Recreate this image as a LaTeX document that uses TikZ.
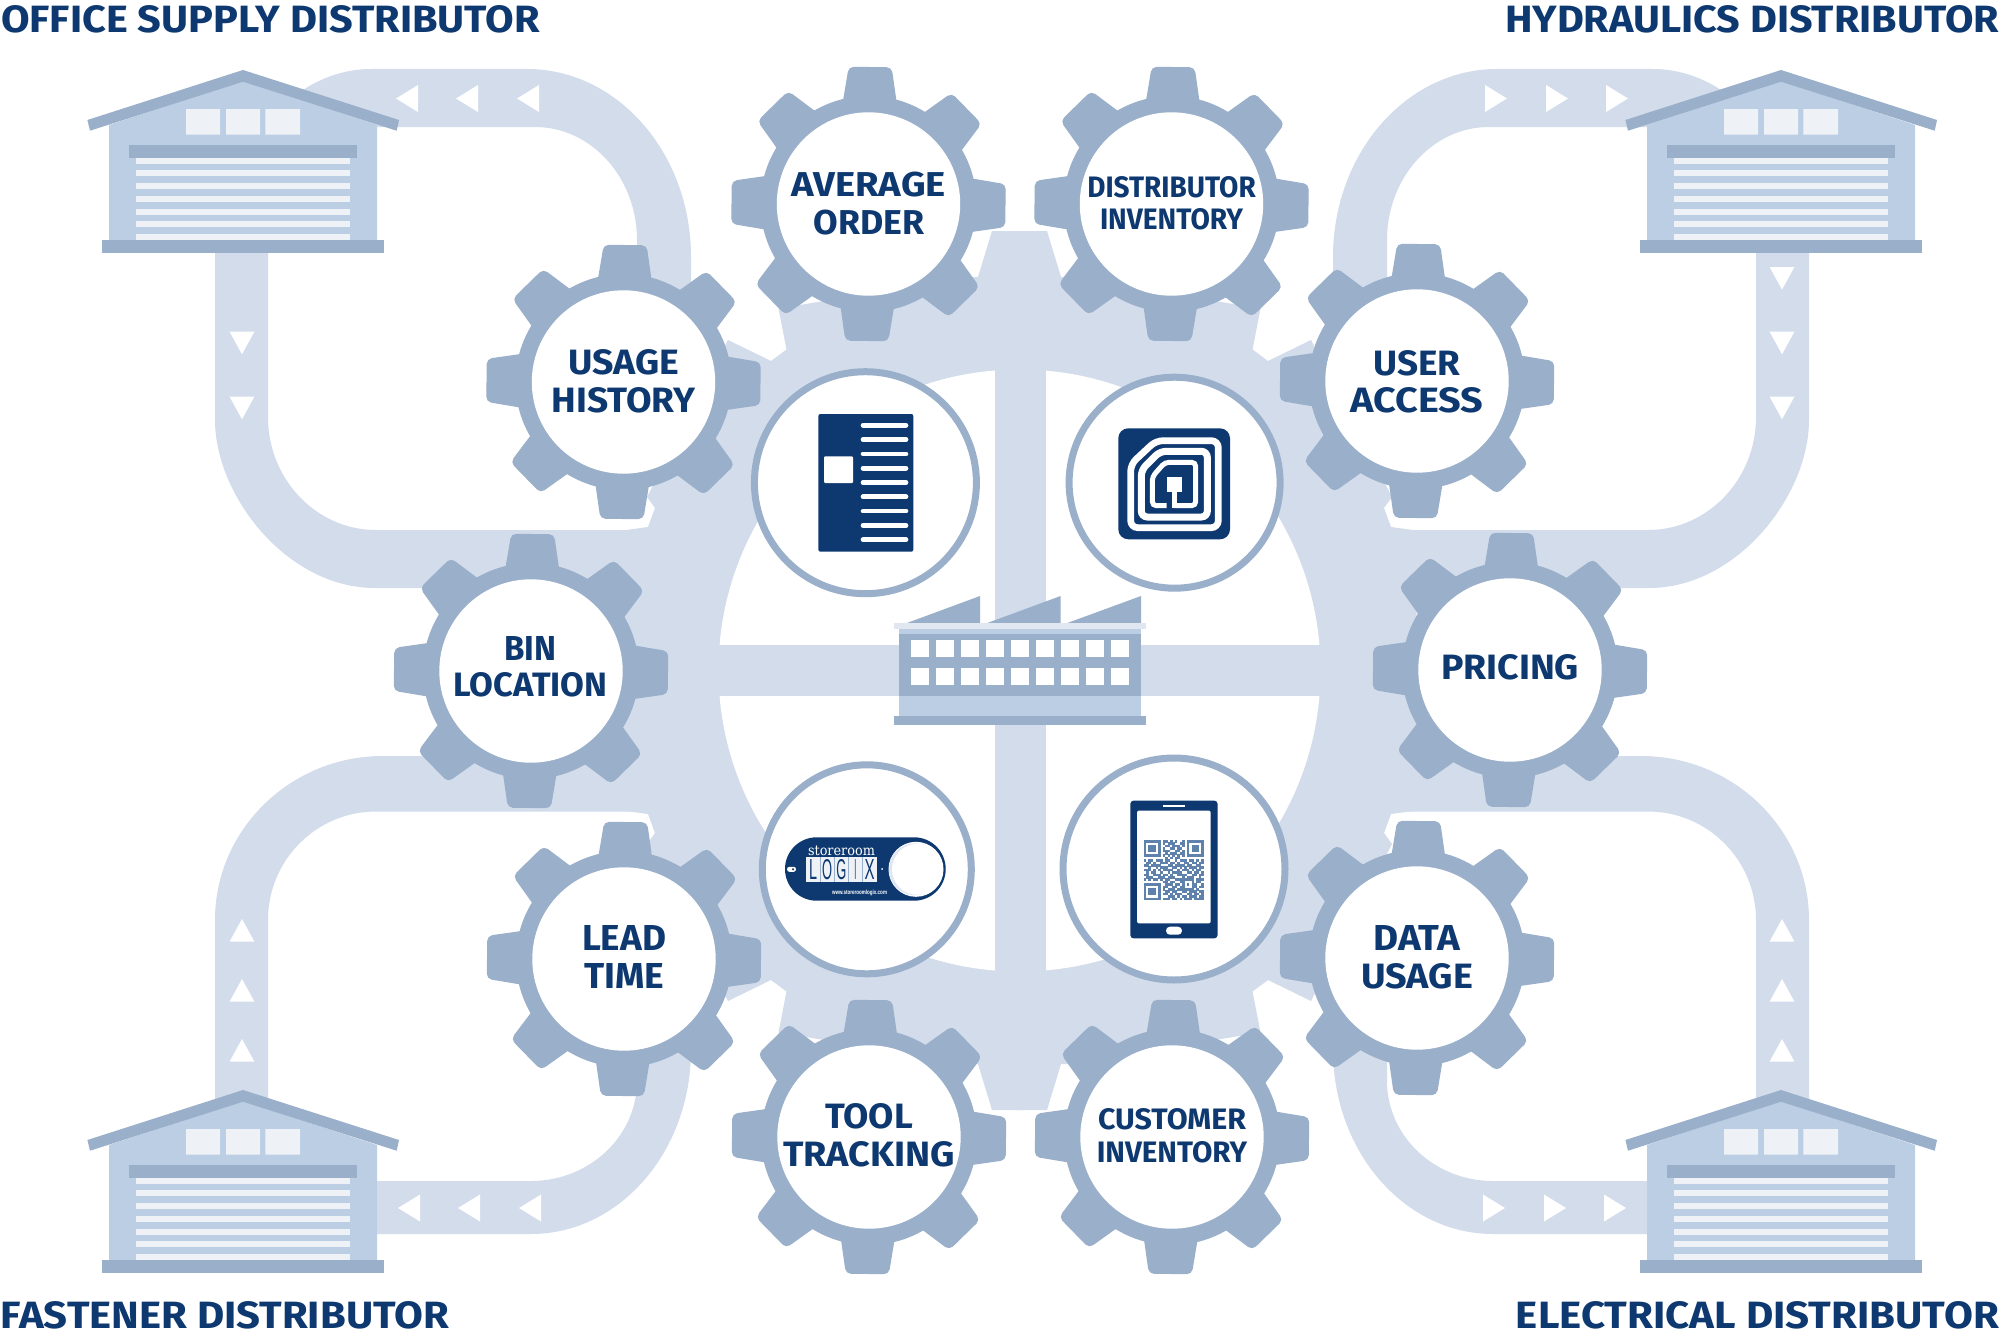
\documentclass[tikz,border=0pt]{standalone}
\usepackage{graphicx}
\usepackage{fontspec}
\setmainfont{Fira Sans}
\newfontfamily\slabfont{DejaVu Serif}
\newfontfamily\plainfont{Liberation Sans}
\definecolor{roadc}{HTML}{D3DCEB}
\definecolor{gearc}{HTML}{9AAFCA}
\definecolor{wallc}{HTML}{BCCEE4}
\definecolor{navyc}{HTML}{0D3870}
\definecolor{paleC}{HTML}{EEF2F7}
\definecolor{qrc}{HTML}{5F82AD}
\definecolor{stripc}{HTML}{E0E7F1}
\tikzset{
  x=1pt,y=-1pt,
  lbl/.style={font=\fontsize{30}{#1}\selectfont\bfseries,align=center,text=navyc,inner sep=0pt,outer sep=0pt},
  lbl/.default=38,
  corner/.style={font=\fontsize{30}{36}\selectfont\bfseries,text=navyc,inner sep=0pt,outer sep=0pt},
  ringc/.style={draw=gearc,line width=7pt,fill=white}
}
\newcommand\fw[3]{\resizebox{#1pt}{#2pt}{#3}}
\newcommand\gearat[2]{%
  \begin{scope}[shift={(#1,#2)}]
    \foreach \a in {0,45,...,315}{
      \fill[gearc,rounded corners=5pt,rotate=\a-0.7] (95,-28) -- (137,-21.5) -- (137,21.5) -- (95,28) -- cycle;
    }
    \fill[gearc] (0,0) circle[radius=108];
    \fill[white] (0,0) circle[radius=91.7];
  \end{scope}}
\newcommand\housepic{%
  \fill[wallc] (109,125) -- (243,81) -- (377,125) -- (377,241) -- (109,241) -- cycle;
  \fill[gearc] (243,70) -- (399,120) -- (396.7,130.7) -- (243,81.7) -- (90,130.7) -- (87.4,120) -- cycle;
  \fill[paleC] (186,109) rectangle (220,134.7) (226,109) rectangle (260,134.7) (265.4,109) rectangle (300,134.7);
  \foreach \yy in {157.7,170.4,183.1,195.8,208.5,221.2,233.9}{\fill[paleC] (136,\yy) rectangle (350.4,\yy+6);}
  \fill[gearc] (129.4,145) rectangle (356.7,157.7);
  \fill[gearc] (102,240) rectangle (384,252.7);}
\newcommand\larr[2]{\fill[white] (#1,#2-13.5) -- (#1,#2+13.5) -- (#1-22,#2) -- cycle;}
\newcommand\darr[1]{\fill[white] (229.6,#1) -- (254.4,#1) -- (242,#1+22.6) -- cycle;}
\newcommand\uarr[1]{\fill[white] (229.6,#1+22.6) -- (254.4,#1+22.6) -- (242,#1) -- cycle;}
\newcommand\topbend{%
  \fill[roadc] (300,92) .. controls (320,78) and (345,69) .. (371,69) -- (527,69)
     .. controls (617.6,69) and (691,153.2) .. (691,257) -- (691,340) -- (637,340) -- (637,240)
     .. controls (637,177.6) and (591.3,127) .. (535,127) -- (300,127) -- cycle;
  \fill[roadc] (268,240) -- (268,417) .. controls (268,479.4) and (316.4,530) .. (376,530) -- (740,530)
     -- (740,588) -- (375,588) .. controls (286.6,588) and (215,495.2) .. (215,420) -- (215,240) -- cycle;
  \fill[roadc] (340,1181) -- (531,1181) .. controls (589.5,1181) and (637,1136.2) .. (637,1081) -- (637,1000)
     -- (691,1000) -- (691,1050) .. controls (691,1151.6) and (619.4,1234) .. (531,1234) -- (340,1234) -- cycle;
  \fill[roadc] (268,1100) -- (268,920) .. controls (268,860) and (316.4,811.5) .. (376,811.5) -- (740,811.5)
     -- (740,756) -- (383,756) .. controls (290,756) and (215,830) .. (215,920) -- (215,1100) -- cycle;}
\newcommand\quartergear{%
  \fill[roadc] (2,2) -- (2,-439.5) -- (-27.5,-439.5) -- (-41.5,-393.5) -- (-49.5,-393.5) -- (-241,-362)
   -- (-233,-321) -- (-248.5,-309.5) -- (-291.5,-330.5) -- (-372.5,-173.5) -- (-364.5,-162.5) -- (-371.5,-143.5)
   -- (-397,-140) -- (-397,-40) -- (-439.5,-27.5) -- (-439.5,2) -- cycle;}
\makeatletter
\newcount\qrx \newcount\qry
\newcommand\qrrow[1]{\qrx=0 \@tfor\qrc:=#1\do{\if\qrc1\fill[qrc] (1143.6+\the\qrx*2.4,840+\the\qry*2.4) rectangle ++(2.5,2.5);\fi\advance\qrx by 1 }\advance\qry by 1 }
\makeatother
\begin{document}
\begin{tikzpicture}
\useasboundingbox (0,0) rectangle (2000,1338);
\fill[white] (0,0) rectangle (2000,1338);
% roads
\topbend
\begin{scope}[shift={(2024,0)},xscale=-1]\topbend\end{scope}
% central gear
\begin{scope}[shift={(1019.5,670.5)}]\quartergear\end{scope}
\begin{scope}[shift={(1019.5,670.5)},xscale=-1]\quartergear\end{scope}
\begin{scope}[shift={(1019.5,670.5)},yscale=-1]\quartergear\end{scope}
\begin{scope}[shift={(1019.5,670.5)},xscale=-1,yscale=-1]\quartergear\end{scope}
\fill[white] (1019.5,670.5) circle[radius=301];
\fill[roadc] (995,360) rectangle (1046,980);
\fill[roadc] (710,645) rectangle (1330,696);
% arrows
\larr{418}{98.5}\larr{478}{98.5}\larr{539}{98.5}
\darr{331.7}\darr{396.7}
\larr{420}{1208}\larr{480}{1208}\larr{541}{1208}
\uarr{919}\uarr{979}\uarr{1039}
\begin{scope}[shift={(2024,0)},xscale=-1]
\larr{418}{98.5}\larr{478}{98.5}\larr{539}{98.5}
\darr{267}\darr{331.7}\darr{396.7}
\larr{420}{1208}\larr{480}{1208}\larr{541}{1208}
\uarr{919}\uarr{979}\uarr{1039}
\end{scope}
% warehouses
\begin{scope}\housepic\end{scope}
\begin{scope}[shift={(1538,0)}]\housepic\end{scope}
\begin{scope}[shift={(0,1020)}]\housepic\end{scope}
\begin{scope}[shift={(1538,1020)}]\housepic\end{scope}
% gears
\gearat{868.5}{204}\gearat{1171.5}{204}
\gearat{623.5}{382}\gearat{1417}{381}
\gearat{531}{671}\gearat{1510}{670}
\gearat{624}{959}\gearat{1417}{958}
\gearat{869}{1137}\gearat{1172}{1137}
% gear labels
\node[lbl] (avg) at (868.7,204) {\fw{154.3}{24.5}{AVERAGE}\\\fw{110.7}{24.5}{ORDER}};
\node[lbl=32] (dinv) at (1171.5,203.5) {\fw{168.4}{21}{DISTRIBUTOR}\\\fw{143}{21}{INVENTORY}};
\node[lbl] (ush) at (623.5,380.8) {\fw{111}{25}{USAGE}\\\fw{144}{25}{HISTORY}};
\node[lbl=37] (uacc) at (1417,381.5) {\fw{87}{25}{USER}\\\fw{133}{25}{ACCESS}};
\node[lbl=36] (bin) at (530.5,667) {\fw{52}{24}{BIN}\\\fw{154}{24}{LOCATION}};
\node[lbl] (pri) at (1510,667) {\fw{138}{25}{PRICING}};
\node[lbl] (lead) at (624,957) {\fw{84}{25}{LEAD}\\\fw{80}{25}{TIME}};
\node[lbl] (data) at (1417,957) {\fw{87}{25}{DATA}\\\fw{112}{25}{USAGE}};
\node[lbl] (tool) at (869,1135.5) {\fw{88}{25}{TOOL}\\\fw{172}{25}{TRACKING}};
\node[lbl=33] (cinv) at (1172,1136) {\fw{148}{21}{CUSTOMER}\\\fw{150.5}{21}{INVENTORY}};
% corner labels
\node[corner,anchor=west] (off) at (1,19.5) {\fw{539}{27}{OFFICE SUPPLY DISTRIBUTOR}};
\node[corner,anchor=east] (hyd) at (1999,19.5) {\fw{494}{27}{HYDRAULICS DISTRIBUTOR}};
\node[corner,anchor=west] (fas) at (1,1315) {\fw{448}{27}{FASTENER DISTRIBUTOR}};
\node[corner,anchor=east] (ele) at (1999,1315) {\fw{483}{27}{ELECTRICAL DISTRIBUTOR}};
% device circles
\draw[ringc] (865.4,482.7) circle[radius=111];
\draw[ringc] (1174.6,482.7) circle[radius=105.5];
\draw[ringc] (866.8,869.3) circle[radius=104.5];
\draw[ringc] (1174,869) circle[radius=111];
% factory
\fill[gearc] (905.6,623.5) -- (980,596) -- (980,623.5) -- cycle;
\fill[gearc] (986,623.5) -- (1060.6,596) -- (1060.6,623.5) -- cycle;
\fill[gearc] (1066,623.5) -- (1141,596) -- (1141,623.5) -- cycle;
\fill[wallc] (898.7,629) rectangle (1141,716.5);
\fill[gearc] (898.7,634) rectangle (1141,695.7);
\fill[stripc] (894,623.3) rectangle (1145.6,629.3);
\fill[gearc] (894,716) rectangle (1145.6,725);
\foreach \cc in {0,...,8}{
  \fill[white] (910.6+\cc*25.1,640) rectangle ++(18,16.7);
  \fill[white] (910.6+\cc*25.1,668.3) rectangle ++(18,16.7);
}
% document icon
\fill[navyc,rounded corners=2pt] (818.4,414) rectangle (913.3,551.7);
\fill[white,rounded corners=1pt] (824,456.3) rectangle (853,483);
\foreach \yy in {425.3,439.6,453.9,468.2,482.5,496.8,511.1,525.4,539.7}{\draw[white,line width=4.7pt,line cap=round] (863,\yy) -- (906,\yy);}
% RFID icon
\fill[navyc,rounded corners=10pt] (1118.3,428.3) rectangle (1230,539.3);
\begin{scope}[shift={(1100,400)},scale=1/3]
  \draw[white,line width=6.7pt,rounded corners=7pt] (92,193) -- (168,122) -- (355,122) -- (355,383) -- (92,383) -- cycle;
  \draw[white,line width=7pt,rounded corners=6pt] (124,210) -- (180,154) -- (322,154) -- (322,351) -- (124,351) -- cycle;
  \draw[white,line width=5pt,rounded corners=4pt] (200,317) -- (157,317) -- (157,230) -- (195,187) -- (287,187) -- (287,317) -- (222,317);
  \fill[white] (202,230) rectangle (245,275);
  \fill[white] (215,275) rectangle (232,325);
\end{scope}
% storeroom tag
\fill[navyc,rounded corners=31.6pt] (785,837.3) rectangle (945.7,900.7);
\fill[white] (916,869.3) circle[radius=27.5];
\fill[stripc] (915,869.3) circle[radius=26];
\fill[white] (917.5,869.3) circle[radius=25.5];
\node[inner sep=0pt,text=white,font=\slabfont\fontsize{20}{24}\selectfont] (store) at (841.5,851.3) {\resizebox{67pt}{9.5pt}{storeroom}};
\fill[paleC] (806,857.3) rectangle (876.7,881.7);
\foreach \xx in {820,834.3,848.3,862.3}{\draw[gearc,line width=0.6pt] (\xx,857.3) -- (\xx,881.7);}
\node[inner sep=0pt,text=navyc,font=\plainfont\fontsize{20}{24}\selectfont] (logix) at (841.3,869.5) {\makebox[14.1pt]{\resizebox{8pt}{20pt}{L}}\makebox[14.1pt]{\resizebox{10pt}{20pt}{O}}\makebox[14.1pt]{\resizebox{10pt}{20pt}{G}}\makebox[14.1pt]{\resizebox{2pt}{20pt}{I}}\makebox[14.1pt]{\resizebox{10pt}{20pt}{X}}};
\node[inner sep=0pt,text=white,font=\plainfont\bfseries\fontsize{10}{12}\selectfont] (url) at (859.5,892.7) {\resizebox{55pt}{4.5pt}{www.storeroomlogix.com}};
\fill[white] (882,869) circle[radius=1];
\fill[white,rounded corners=2.4pt] (787,866.8) rectangle (796,871.8);
\fill[navyc] (793,869.3) circle[radius=1.2];
% phone icon
\fill[navyc,rounded corners=3pt] (1130.4,800.7) rectangle (1217.5,938.3);
\fill[white,rounded corners=1.5pt] (1137,810.7) rectangle (1210.7,923.3);
\draw[white,line width=2pt] (1163,806) -- (1184.6,806);
\fill[white,rounded corners=3.9pt] (1166,926.7) rectangle (1182,934.7);
\qrrow{1111111011010100101111111}
\qrrow{1000001010111001101000001}
\qrrow{1011101001101110101011101}
\qrrow{1011101010011011001011101}
\qrrow{1011101011100110101011101}
\qrrow{1000001001011101101000001}
\qrrow{1111111010101010101111111}
\qrrow{0000000001010110000000000}
\qrrow{1011011101100101110110101}
\qrrow{0110100111011010011011011}
\qrrow{1101111000110111101100110}
\qrrow{0010010111001101010111011}
\qrrow{1110101011110010111010110}
\qrrow{0101100100101111001101101}
\qrrow{1100111011010011110011011}
\qrrow{0111001110111000101110010}
\qrrow{1010110101100111111110111}
\qrrow{0000000011011001100010110}
\qrrow{1111111001110110101011001}
\qrrow{1000001011001101100011011}
\qrrow{1011101010111011111110100}
\qrrow{1011101001101100110111011}
\qrrow{1011101011010111001101101}
\qrrow{1000001000111010110111011}
\qrrow{1111111011101101011101111}
\end{tikzpicture}
\end{document}
